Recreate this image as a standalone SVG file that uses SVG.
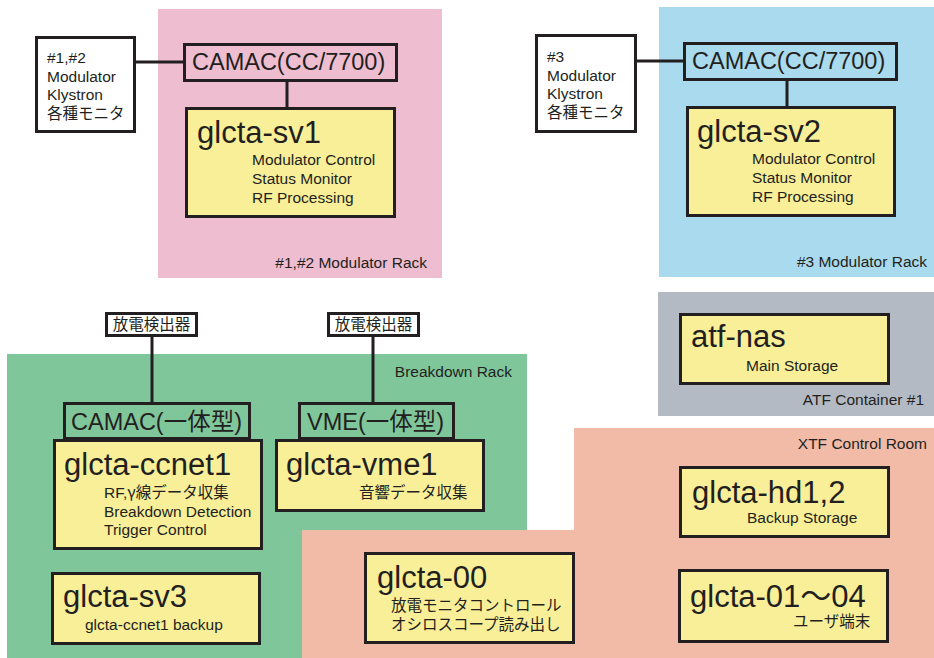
<svg xmlns="http://www.w3.org/2000/svg" width="934" height="658" viewBox="0 0 934 658">
  <style>
    text { font-family: "Liberation Sans", "Noto Sans CJK JP", sans-serif; fill: #231f20; }
    .title { font-size: 31px; }
    .bus { font-size: 23.5px; }
    .sub { font-size: 15.5px; }
    .zone { font-size: 15.5px; text-anchor: end; }
    .cjk { font-family: "Noto Sans CJK JP", sans-serif; }
    .host { fill: #f8ef98; stroke: #231f20; stroke-width: 3; }
    .iface { stroke: #231f20; stroke-width: 3; fill: none; }
    .ext { fill: #ffffff; stroke: #231f20; stroke-width: 3; }
    .wire { stroke: #231f20; stroke-width: 3; fill: none; }
  </style>

  <!-- rack / room areas -->
  <g id="areas">
    <rect x="158" y="9" width="284" height="269" fill="#efbdd0"/>
    <rect x="659" y="7" width="275" height="270" fill="#a9daee"/>
    <rect x="7" y="354" width="520" height="304" fill="#80c69b"/>
    <rect x="658" y="292" width="276" height="124" fill="#b4bac3"/>
    <polygon points="574,428 934,428 934,658 302,658 302,530 574,530" fill="#f2bba8"/>
    <text class="zone" x="427" y="268">#1,#2 Modulator Rack</text>
    <text class="zone" x="927" y="267">#3 Modulator Rack</text>
    <text class="zone" x="512" y="377">Breakdown Rack</text>
    <text class="zone" x="924" y="405">ATF Container #1</text>
    <text class="zone" x="927" y="449">XTF Control Room</text>
  </g>

  <!-- connectors -->
  <g id="connectors">
    <line class="wire" x1="136" y1="62" x2="184" y2="62"/>
    <line class="wire" x1="287" y1="81" x2="287" y2="108"/>
    <line class="wire" x1="637" y1="61" x2="684" y2="61"/>
    <line class="wire" x1="787" y1="80" x2="787" y2="107"/>
    <line class="wire" x1="152" y1="336" x2="152" y2="403"/>
    <line class="wire" x1="373" y1="336" x2="373" y2="403"/>
  </g>

  <!-- #1,#2 modulator rack -->
  <g id="mon12">
    <rect class="ext" x="36.5" y="37.5" width="98" height="94"/>
    <text class="sub" x="47" y="63">#1,#2</text>
    <text class="sub" x="47" y="82">Modulator</text>
    <text class="sub" x="47" y="100">Klystron</text>
    <text class="sub" x="47" y="119">各種モニタ</text>
  </g>
  <g id="camac1">
    <rect class="iface" x="184.5" y="44.5" width="212" height="36"/>
    <text class="bus" x="192" y="70">CAMAC(CC/7700)</text>
  </g>
  <g id="sv1">
    <rect class="host" x="186.5" y="108.5" width="208" height="108"/>
    <text class="title" x="197" y="143">glcta-sv1</text>
    <text class="sub" x="252" y="165">Modulator Control</text>
    <text class="sub" x="252" y="184">Status Monitor</text>
    <text class="sub" x="252" y="203">RF Processing</text>
  </g>

  <!-- #3 modulator rack -->
  <g id="mon3">
    <rect class="ext" x="536.5" y="35.5" width="99" height="96"/>
    <text class="sub" x="547" y="62">#3</text>
    <text class="sub" x="547" y="81">Modulator</text>
    <text class="sub" x="547" y="99">Klystron</text>
    <text class="sub" x="547" y="118">各種モニタ</text>
  </g>
  <g id="camac2">
    <rect class="iface" x="684.5" y="43.5" width="212" height="36"/>
    <text class="bus" x="692" y="69">CAMAC(CC/7700)</text>
  </g>
  <g id="sv2">
    <rect class="host" x="687.5" y="107.5" width="207" height="108"/>
    <text class="title" x="697" y="142">glcta-sv2</text>
    <text class="sub" x="752" y="164">Modulator Control</text>
    <text class="sub" x="752" y="183">Status Monitor</text>
    <text class="sub" x="752" y="202">RF Processing</text>
  </g>

  <!-- breakdown rack -->
  <g id="det1">
    <rect class="ext" x="106.5" y="313.5" width="90" height="22"/>
    <text class="sub" x="151.5" y="330" text-anchor="middle">放電検出器</text>
  </g>
  <g id="det2">
    <rect class="ext" x="328.5" y="313.5" width="90" height="22"/>
    <text class="sub" x="373.5" y="330" text-anchor="middle">放電検出器</text>
  </g>
  <g id="camac3">
    <rect class="iface" x="64.5" y="403.5" width="185" height="35"/>
    <text class="bus" x="71" y="430">CAMAC(一体型)</text>
  </g>
  <g id="vme">
    <rect class="iface" x="299.5" y="403.5" width="154" height="35"/>
    <text class="bus" x="307" y="430">VME(一体型)</text>
  </g>
  <g id="ccnet1">
    <rect class="host" x="54.5" y="440.5" width="207" height="108"/>
    <text class="title" x="64" y="475">glcta-ccnet1</text>
    <text class="sub" x="104" y="498">RF,<tspan class="cjk">γ</tspan>線データ収集</text>
    <text class="sub" x="104" y="517">Breakdown Detection</text>
    <text class="sub" x="104" y="535">Trigger Control</text>
  </g>
  <g id="vme1">
    <rect class="host" x="276.5" y="440.5" width="207" height="70"/>
    <text class="title" x="286" y="475">glcta-vme1</text>
    <text class="sub" x="359" y="498">音響データ収集</text>
  </g>
  <g id="sv3">
    <rect class="host" x="52.5" y="573.5" width="207" height="70"/>
    <text class="title" x="63" y="607">glcta-sv3</text>
    <text class="sub" x="85" y="630">glcta-ccnet1 backup</text>
  </g>

  <!-- ATF container -->
  <g id="atf-nas">
    <rect class="host" x="680.5" y="314.5" width="208" height="69"/>
    <text class="title" x="691" y="347">atf-nas</text>
    <text class="sub" x="746" y="371">Main Storage</text>
  </g>

  <!-- XTF control room -->
  <g id="hd12">
    <rect class="host" x="680.5" y="467.5" width="208" height="69"/>
    <text class="title" x="692" y="503">glcta-hd1,2</text>
    <text class="sub" x="747" y="523">Backup Storage</text>
  </g>
  <g id="glcta00">
    <rect class="host" x="365.5" y="553.5" width="208" height="89"/>
    <text class="title" x="377" y="588">glcta-00</text>
    <text class="sub" x="391" y="611">放電モニタコントロール</text>
    <text class="sub" x="391" y="630">オシロスコープ読み出し</text>
  </g>
  <g id="glcta01">
    <rect class="host" x="679.5" y="570.5" width="208" height="71"/>
    <text class="title" x="690" y="607">glcta-01～04</text>
    <text class="sub" x="793" y="627">ユーザ端末</text>
  </g>
</svg>
